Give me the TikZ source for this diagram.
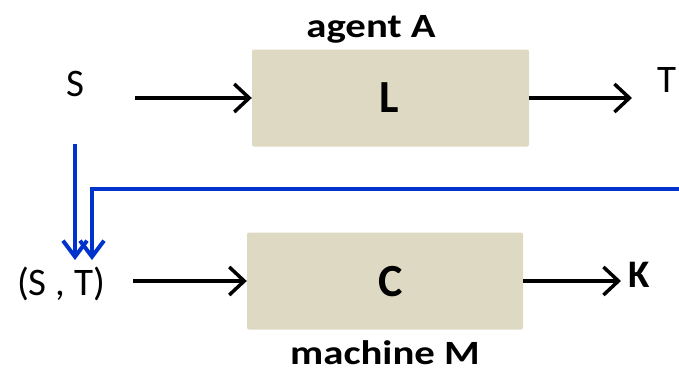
\documentclass[tikz,border=0pt]{standalone}
\usepackage{fontspec}
\setmainfont{Carlito}
\newfontfamily\widefont[FakeStretch=1.2]{Carlito}
\usetikzlibrary{arrows.meta}
\definecolor{boxtan}{HTML}{DDD9C3}
\definecolor{fbblue}{HTML}{0033CC}
\begin{document}
\begin{tikzpicture}[x=1pt,y=-1pt,
  box/.style={fill=boxtan, rounded corners=2pt, draw=none, minimum width=277pt, minimum height=97pt, inner sep=0pt},
  blk/.style={line width=3.5pt, -{Straight Barb[length=15pt,width=28pt]}},
  blu/.style={draw=fbblue, line width=4pt, -{Straight Barb[length=16pt,width=24pt]}},
  reg/.style={inner sep=0pt, anchor=base, font=\fontsize{39}{44}\selectfont},
  bld/.style={inner sep=0pt, anchor=base, font=\widefont\bfseries\fontsize{34}{40}\selectfont},
  big/.style={inner sep=0pt, font=\bfseries\fontsize{46}{50}\selectfont}]
\useasboundingbox (0,0) rectangle (679,372);
% boxes
\node[box] (boxL) at (390.5,98) {};
\node[box, minimum width=276pt] (boxC) at (385,281) {};
\node[big] (lblL) at (389,98) {L};
\node[big] (lblC) at (391,282) {C};
% labels
\node[bld] (agent) at (371,37) {agent A};
\node[bld] (machine) at (385,364) {machine M};
\node[reg] (S) at (75,96) {S};
\node[reg] (T) at (667,92) {T};
\node[reg] (ST) at (61,295) {(S , T)};
\node[bld, font=\bfseries\fontsize{39}{44}\selectfont] (K) at (639,287) {K};
% connector ends
\coordinate (sOut) at (135,98);
\coordinate (tIn) at (632,98);
\coordinate (stOut) at (133,281);
\coordinate (kIn) at (621,281);
\coordinate (bA) at (75,144);
\coordinate (bAtip) at (75,260);
\coordinate (bB) at (679,189);
\coordinate (bBtip) at (92,260);
% black arrows
\draw[blk] (sOut) -- (boxL.west);
\draw[blk] (boxL.east) -- (tIn);
\draw[blk] (stOut) -- (boxC.west);
\draw[blk] (boxC.east) -- (kIn);
% blue feedback arrows
\draw[blu] (bA) -- (bAtip);
\draw[blu] (bB) -| (bBtip);
\end{tikzpicture}
\end{document}
